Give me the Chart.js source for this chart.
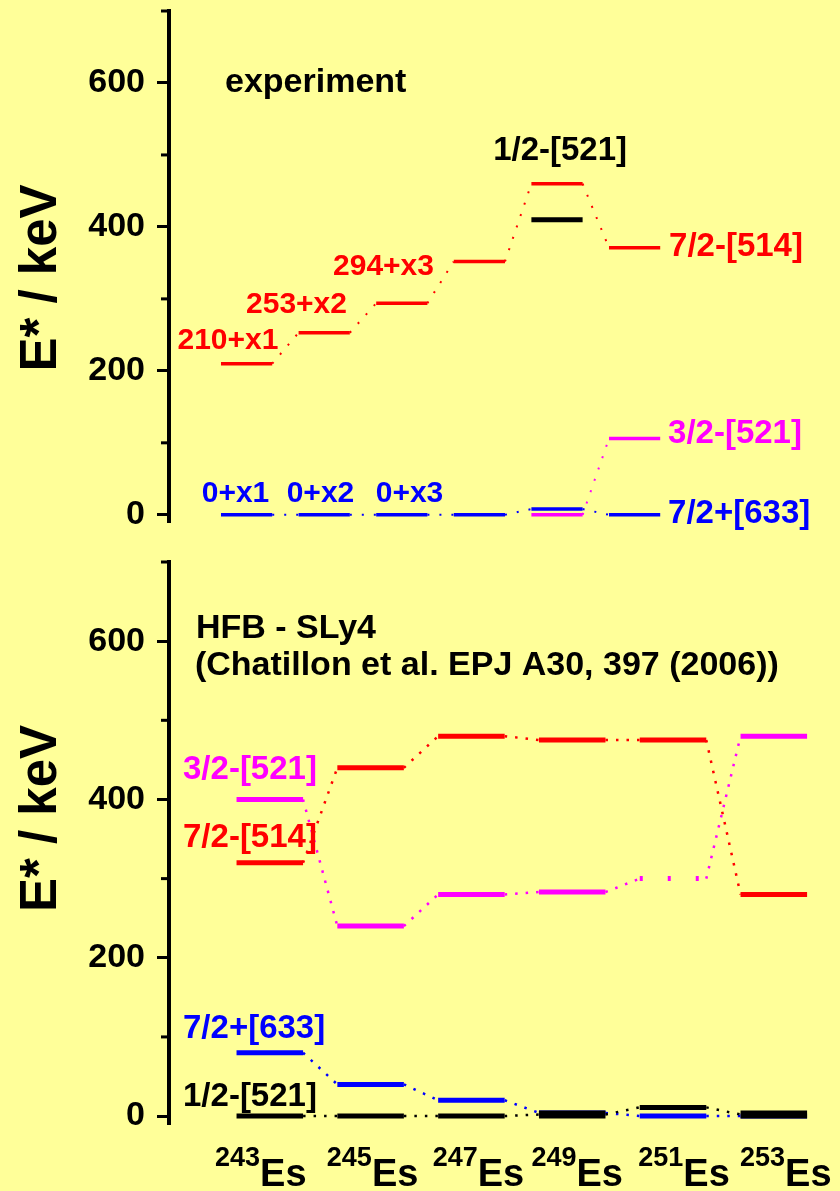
<!DOCTYPE html>
<html>
<head>
<meta charset="utf-8">
<title>Es isotopes: single-particle levels</title>
<script src="https://cdn.jsdelivr.net/npm/chart.js@4/dist/chart.umd.min.js"></script>
<style>
  html, body { margin: 0; padding: 0; background: #ffff99; }
  #page { position: relative; width: 840px; height: 1191px; overflow: hidden; }
  #expCanvas { position: absolute; left: 0; top: 0; }
  #hfbCanvas { position: absolute; left: 0; top: 540px; }
</style>
</head>
<body>
<div id="page">
  <canvas id="expCanvas" width="840" height="540"></canvas>
  <canvas id="hfbCanvas" width="840" height="651"></canvas>
</div>
<script>
// ---- data (excitation energies in keV) ----
const massNumbers = ['243', '245', '247', '249', '251', '253'];
const elementSymbol = 'Es';

// experiment
const exp514 = [210, 253, 294, 352, 460, 371];        // 7/2-[514]
const exp633 = [0, 0, 0, 0, 8, 0];                    // 7/2+[633]
const exp521half3 = [null, null, null, null, 0, 106]; // 3/2-[521]
const exp521half1 = [null, null, null, null, 410, null]; // 1/2-[521]

// HFB - SLy4
const hfb514 = [320, 440, 480, 475, 475, 280];        // 7/2-[514]
const hfb521half3 = [400, 240, 280, 283, 300, 480];   // 3/2-[521]
const hfb633 = [80, 40, 20, 4, 0, 0];                 // 7/2+[633]
const hfb521half1 = [0, 0, 0, 2, 11, 2];              // 1/2-[521]

const majorTickValues = [0, 200, 400, 600];
const minorTickValues = [100, 300, 500, 700];

const RED = '#ff0000', BLUE = '#0000ff', MAGENTA = '#ff00ff', BLACK = '#000000';
const FONT = '"Liberation Sans", Arial, Helvetica, sans-serif';
const HALF = 0.33; // half width of a level bar, in isotope slots

// a level bar for every isotope that has a value
function levelSet(vals, color, width, extra = {}) {
  const pts = [];
  vals.forEach((v, i) => {
    if (v === null) return;
    pts.push({x: i - HALF, y: v, k: i}, {x: i + HALF, y: v, k: i}, {x: i + 0.5, y: null, k: i});
  });
  const pick = (list, c) => {
    if (!list) return undefined;
    const val = list[pts[c.p0DataIndex].k];
    return val === null || val === undefined ? undefined : val;
  };
  return {
    data: pts, borderColor: color, borderWidth: width, borderDash: [], pointRadius: 0,
    spanGaps: false, borderCapStyle: 'butt', tension: 0, fill: false,
    segment: {
      borderWidth: c => pick(extra.widths, c),
      borderDash: c => pick(extra.dashes, c)
    }
  };
}

// dotted link between the same level of neighbouring isotopes
function linkSet(vals, color, width, dash) {
  const pts = [];
  for (let i = 0; i < vals.length - 1; i++) {
    if (vals[i] === null || vals[i + 1] === null) continue;
    pts.push({x: i + HALF, y: vals[i]}, {x: i + 1 - HALF, y: vals[i + 1]}, {x: i + 1, y: null});
  }
  return {
    data: pts, borderColor: color, borderWidth: width, borderDash: dash, pointRadius: 0,
    spanGaps: false, borderCapStyle: 'butt', tension: 0, fill: false
  };
}

// short ticks between the labelled ones
const minorTicks = {
  id: 'minorTicks',
  afterDraw(chart, args, opts) {
    const s = chart.scales.y, ctx = chart.ctx;
    ctx.save();
    ctx.strokeStyle = BLACK;
    ctx.lineWidth = 3;
    for (const v of opts.values) {
      const py = s.getPixelForValue(v);
      ctx.beginPath();
      ctx.moveTo(s.right - opts.length, py);
      ctx.lineTo(s.right + 1, py);
      ctx.stroke();
    }
    ctx.restore();
  }
};

// level names and panel captions, placed in data units
const levelText = {
  id: 'levelText',
  afterDatasetsDraw(chart, args, opts) {
    const {ctx, scales: {x, y}} = chart;
    ctx.save();
    ctx.textBaseline = 'alphabetic';
    for (const t of opts.items) {
      ctx.font = `bold ${t.size}px ${FONT}`;
      ctx.fillStyle = t.color;
      ctx.textAlign = t.align || 'center';
      ctx.fillText(t.text, x.getPixelForValue(t.at[0]), y.getPixelForValue(t.at[1]));
    }
    ctx.restore();
  }
};

// rotated y-axis caption
const yCaption = {
  id: 'yCaption',
  afterDraw(chart, args, opts) {
    const ctx = chart.ctx, y = chart.scales.y;
    ctx.save();
    ctx.translate(opts.x, y.getPixelForValue(opts.center));
    ctx.rotate(-Math.PI / 2);
    ctx.font = `bold ${opts.size}px ${FONT}`;
    ctx.fillStyle = BLACK;
    ctx.textAlign = 'center';
    ctx.textBaseline = 'middle';
    ctx.fillText(opts.text, 0, 0);
    ctx.restore();
  }
};

// isotope names with superscript mass numbers under the lower panel
const isotopeLabels = {
  id: 'isotopeLabels',
  afterDraw(chart, args, opts) {
    const ctx = chart.ctx, x = chart.scales.x, bottom = chart.chartArea.bottom;
    ctx.save();
    ctx.fillStyle = BLACK;
    ctx.textAlign = 'left';
    ctx.textBaseline = 'alphabetic';
    massNumbers.forEach((m, i) => {
      ctx.font = `bold ${opts.supSize}px ${FONT}`;
      const wSup = ctx.measureText(m).width;
      ctx.font = `bold ${opts.size}px ${FONT}`;
      const wSym = ctx.measureText(elementSymbol).width;
      const cx = x.getPixelForValue(i) + opts.nudge[i];
      const x0 = cx - (wSup + wSym) / 2;
      ctx.font = `bold ${opts.supSize}px ${FONT}`;
      ctx.fillText(m, x0, bottom + opts.supDrop);
      ctx.font = `bold ${opts.size}px ${FONT}`;
      ctx.fillText(elementSymbol, x0 + wSup, bottom + opts.drop);
    });
    ctx.restore();
  }
};

function yAxis(width) {
  return {
    type: 'linear', min: -10, max: 700,
    afterBuildTicks(s) { s.ticks = majorTickValues.map(v => ({value: v})); },
    ticks: {color: BLACK, padding: 12, font: {family: FONT, size: 34, weight: 'bold'}},
    grid: {drawOnChartArea: false, drawTicks: true, tickLength: 12, tickWidth: 3, tickColor: BLACK},
    border: {display: true, color: BLACK, width: 4},
    afterFit(s) { s.width = width; s.paddingTop = 0; s.paddingBottom = 0; }
  };
}

const common = {
  responsive: false,
  animation: false,
  events: [],
  plugins: {legend: {display: false}, tooltip: {enabled: false}}
};

// ---- upper panel: experiment ----
new Chart(document.getElementById('expCanvas'), {
  type: 'line',
  data: {
    datasets: [
      levelSet(exp521half1, BLACK, 5),
      levelSet(exp633, BLUE, 3.5),
      levelSet(exp521half3, MAGENTA, 3.5),
      levelSet(exp514, RED, 3.5),
      linkSet(exp633, BLUE, 2, [2, 10]),
      linkSet(exp521half3, MAGENTA, 2, [2, 10]),
      linkSet(exp514, RED, 2, [2, 10])
    ]
  },
  options: {
    ...common,
    layout: {padding: {left: 0, top: 11, right: 11.4, bottom: 18}},
    scales: {
      x: {type: 'linear', min: -1, max: 7.5, display: false},
      y: yAxis(169)
    },
    plugins: {
      ...common.plugins,
      minorTicks: {values: minorTickValues, length: 8},
      yCaption: {text: 'E* / keV', x: 42, center: 329, size: 51},
      levelText: {items: [
        {text: 'experiment', at: [-0.278, 587], size: 34, color: BLACK, align: 'left'},
        {text: '1/2-[521]', at: [4.04, 493], size: 33, color: BLACK},
        {text: '7/2-[514]', at: [5.444, 359], size: 33, color: RED, align: 'left'},
        {text: '3/2-[521]', at: [5.431, 100], size: 33, color: MAGENTA, align: 'left'},
        {text: '7/2+[633]', at: [5.431, -11], size: 33, color: BLUE, align: 'left'},
        {text: '210+x1', at: [-0.24, 230], size: 30, color: RED},
        {text: '253+x2', at: [0.643, 281], size: 30, color: RED},
        {text: '294+x3', at: [1.764, 333], size: 30, color: RED},
        {text: '0+x1', at: [-0.143, 18], size: 30, color: BLUE},
        {text: '0+x2', at: [0.952, 18], size: 30, color: BLUE},
        {text: '0+x3', at: [2.099, 18], size: 30, color: BLUE}
      ]}
    }
  },
  plugins: [minorTicks, levelText, yCaption]
});

// ---- lower panel: HFB - SLy4 ----
new Chart(document.getElementById('hfbCanvas'), {
  type: 'line',
  data: {
    datasets: [
      levelSet(hfb521half1, BLACK, 5, {widths: [5, 5, 5, 8, 5, 8]}),
      levelSet(hfb633, BLUE, 5),
      levelSet(hfb521half3, MAGENTA, 5, {dashes: [null, null, null, null, [3, 25], null]}),
      levelSet(hfb514, RED, 5),
      linkSet(hfb521half1, BLACK, 2.5, [2.5, 8]),
      linkSet(hfb633, BLUE, 2.5, [2.5, 8]),
      linkSet(hfb521half3, MAGENTA, 2.5, [2.5, 8]),
      linkSet(hfb514, RED, 2.5, [2.5, 8])
    ]
  },
  options: {
    ...common,
    layout: {padding: {left: 0, top: 22, right: 5.7, bottom: 67}},
    scales: {
      x: {type: 'linear', min: -1, max: 5.6, display: false},
      y: yAxis(169)
    },
    plugins: {
      ...common.plugins,
      minorTicks: {values: minorTickValues, length: 8},
      yCaption: {text: 'E* / keV', x: 42, center: 376, size: 51},
      isotopeLabels: {size: 38, supSize: 27, supDrop: 42, drop: 62, nudge: [-9, 2, 7, 5, 11, 12]},
      levelText: {items: [
        {text: 'HFB - SLy4', at: [-0.733, 604], size: 34, color: BLACK, align: 'left'},
        {text: '(Chatillon et al. EPJ A30, 397 (2006))', at: [-0.743, 557], size: 34, color: BLACK, align: 'left'},
        {text: '3/2-[521]', at: [-0.861, 426], size: 33, color: MAGENTA, align: 'left'},
        {text: '7/2-[514]', at: [-0.861, 340], size: 33, color: RED, align: 'left'},
        {text: '7/2+[633]', at: [-0.861, 99], size: 33, color: BLUE, align: 'left'},
        {text: '1/2-[521]', at: [-0.861, 13], size: 33, color: BLACK, align: 'left'}
      ]}
    }
  },
  plugins: [minorTicks, levelText, yCaption, isotopeLabels]
});
</script>
</body>
</html>
